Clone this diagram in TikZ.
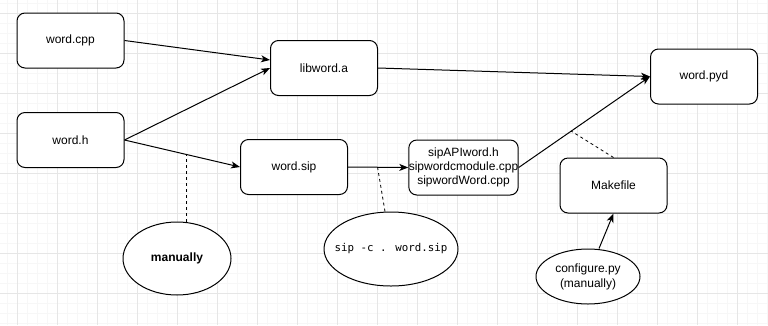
\documentclass[tikz,border=0pt]{standalone}
\usepackage{fontspec}
\setmainfont{Liberation Sans}
\newfontfamily\codefont{DejaVu Sans Mono}
\usetikzlibrary{shapes.geometric,arrows.meta}
\definecolor{gridminor}{HTML}{F7F7F7}
\definecolor{gridmajor}{HTML}{E6E6E6}
\tikzset{
  filebox/.style={draw, line width=1pt, rounded corners=8pt, fill=white,
    minimum width=107pt, minimum height=55pt, inner sep=0pt, align=center,
    font=\fontsize{12}{14}\selectfont},
  note/.style={draw, line width=1pt, ellipse, fill=white, inner sep=0pt, align=center,
    font=\fontsize{12}{14}\selectfont},
  flow/.style={line width=1pt, -{Stealth[length=9pt,width=7pt,inset=2.5pt]}},
  link/.style={line width=0.8pt, dashed, dash pattern=on 3pt off 3pt},
}
\begin{document}
\begin{tikzpicture}[x=1pt,y=-1pt]
\useasboundingbox (0,0) rectangle (768,325);
% background grid
\fill[white] (0,0) rectangle (768,325);
\foreach \gx in {7,17,...,767} \draw[gridminor, line width=0.6pt] (\gx,0) -- (\gx,325);
\foreach \gy in {3,13,...,323} \draw[gridminor, line width=0.6pt] (0,\gy) -- (768,\gy);
\foreach \gx in {17,57,...,767} \draw[gridmajor, line width=0.8pt] (\gx,0) -- (\gx,325);
\foreach \gy in {13,53,...,323} \draw[gridmajor, line width=0.8pt] (0,\gy) -- (768,\gy);

% files
\node[filebox] (cpp)  at (70.5,40.5)  {word.cpp};
\node[filebox] (hdr)  at (70.5,140)   {word.h};
\node[filebox] (lib)  at (324,68)     {libword.a};
\node[filebox] (sip)  at (294,167)    {word.sip};
\node[filebox] (gen)  at (463.5,167.5) {sipAPIword.h\\sipwordcmodule.cpp\\sipwordWord.cpp};
\node[filebox] (pyd)  at (704,76.5)   {word.pyd};
\node[filebox] (make) at (613.5,185.5) {Makefile};

% notes (labels boxed to zero width so the ellipse keeps its set size)
\node[note, minimum width=108pt, minimum height=73pt, font=\fontsize{12}{14}\selectfont\bfseries] (man) at (177,258.5) {\makebox[0pt]{manually}};
\node[note, minimum width=134pt, minimum height=74pt, font=\fontsize{10.8}{13}\selectfont\codefont] (cmd) at (391,249) {\makebox[0pt]{sip -c . word.sip}};
\node[note, minimum width=104pt, minimum height=55pt] (cfg) at (588,276.5) {\makebox[0pt]{\shortstack{configure.py\\[1pt](manually)}}};

% build flow
\draw[flow] (cpp.east) -- ([yshift=8pt]lib.west);
\draw[flow] (hdr.east) -- (lib.west);
\draw[flow] (hdr.east) -- coordinate[pos=0.54] (hm) (sip.west);
\draw[flow] (lib.east) -- (pyd.west);
\draw[flow] (sip.east) -- coordinate[pos=0.49] (sm) (gen.west);
\draw[flow] (gen.east) -- coordinate[pos=0.4] (gm) (pyd.west);
\draw[flow] ([xshift=11pt]cfg.north) -- (make.south);

% annotations
\draw[link] (man.north -| hm) -- (hm);
\draw[link] ([xshift=-6pt]cmd.north) -- (sm);
\draw[link] (make.north) -- (gm);
\end{tikzpicture}
\end{document}
